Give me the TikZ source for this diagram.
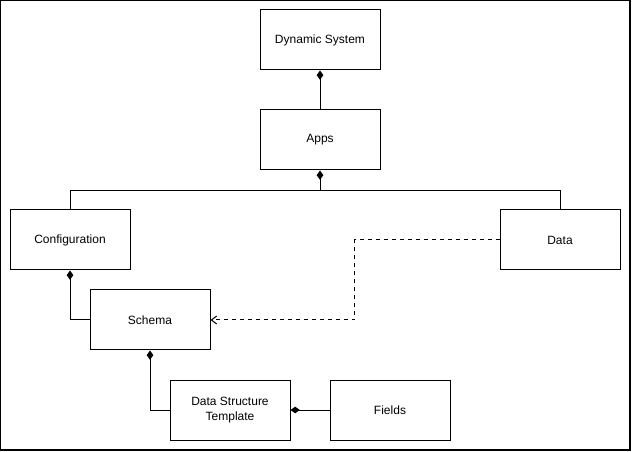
\documentclass[tikz,border=0pt]{standalone}
\usepackage{fontspec}
\setmainfont{Liberation Sans}
\usepackage{tikz}
\usetikzlibrary{positioning}
\usetikzlibrary{calc}
\usetikzlibrary{arrows.meta}
\tikzset{every picture/.style={line width=0.75pt},
  box/.style={rectangle, draw, minimum width=90pt, minimum height=45pt, align=center, font=\fontsize{9}{11}\selectfont},
  compose/.style={{Diamond[length=7pt,width=5pt]}-},
  uses/.style={dashed, -{Straight Barb[length=4pt,width=6pt]}}}

\begin{document}
\begin{tikzpicture}[x=0.75pt,y=0.75pt]
\useasboundingbox (0,0) rectangle (632,-452);
\draw[line width=1.2pt] (0.6,-0.6) rectangle (630,-450);

\node (ds) [box] at (320,-40) {Dynamic System};
\node (apps) [box, below of=ds, node distance=75pt] {Apps};
\node (conf) [box] at (70,-240) {Configuration};
\node (data) [box] at (560,-240) {Data};
\node (schema) [box] at (150,-320) {Schema};
\node (dst) [box] at (230,-410) {Data Structure\\Template};
\node (fields) [box, right of=dst, node distance=120pt] {Fields};

\coordinate (split) at ($(apps.south)+(0,-20)$);
\draw[compose] (ds) -- (apps);
\draw[compose] (apps.south) -- (split) -| (conf.north);
\draw (split) -| (data.north);
\draw[compose] (conf.south) |- (schema.west);
\draw[compose] (schema.south) |- (dst.west);
\draw[compose] (dst) -- (fields);
\draw[uses] (data.west) -- ++(-145,0) |- (schema.east);
\end{tikzpicture}
\end{document}
